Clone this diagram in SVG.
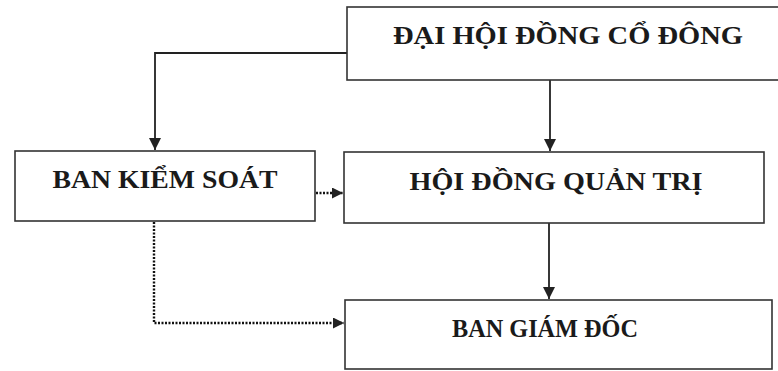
<svg xmlns="http://www.w3.org/2000/svg" width="778" height="371" viewBox="0 0 778 371">
<style>
.box{fill:#fff;stroke:#333;stroke-width:1.6}
.lbl{font-family:"Liberation Serif","Times New Roman",serif;font-weight:bold;font-size:25px;fill:#1a1a1a;text-anchor:middle}
.solid{fill:none;stroke:#222;stroke-width:1.8}
.dot{fill:none;stroke:#111;stroke-width:2.4;stroke-dasharray:2 1.5}
</style>
<defs>
<marker id="ah" viewBox="0 0 10 10" refX="10" refY="5" markerWidth="11" markerHeight="11" markerUnits="userSpaceOnUse" orient="auto">
<path d="M0,0 L10,5 L0,10 Z" fill="#222"/>
</marker>
<marker id="ahs" viewBox="0 0 10 10" refX="10" refY="5" markerWidth="12" markerHeight="12" markerUnits="userSpaceOnUse" orient="auto">
<path d="M0,0 L10,5 L0,10 Z" fill="#222"/>
</marker>
</defs>
<rect width="778" height="371" fill="#fff"/>
<g id="connectors">
<path class="solid" d="M347,53 H155 V150" marker-end="url(#ahs)"/>
<path class="solid" d="M550,80 V151" marker-end="url(#ahs)"/>
<path class="solid" d="M549,223 V299" marker-end="url(#ahs)"/>
<path class="dot" d="M316,193 H343" marker-end="url(#ah)"/>
<path class="dot" d="M154,222 V323 H344" marker-end="url(#ah)"/>
</g>
<g id="dhdcd">
<rect class="box" x="347" y="7" width="440" height="73"/>
<text class="lbl" x="568" y="44" textLength="350" lengthAdjust="spacingAndGlyphs">ĐẠI HỘI ĐỒNG CỔ ĐÔNG</text>
</g>
<g id="bks">
<rect class="box" x="15" y="151" width="300" height="70"/>
<text class="lbl" x="165" y="188" textLength="225" lengthAdjust="spacingAndGlyphs">BAN KIỂM SOÁT</text>
</g>
<g id="hdqt">
<rect class="box" x="344" y="152" width="420" height="71"/>
<text class="lbl" x="556" y="190" textLength="293" lengthAdjust="spacingAndGlyphs">HỘI ĐỒNG QUẢN TRỊ</text>
</g>
<g id="bgd">
<rect class="box" x="345" y="300" width="427" height="69"/>
<text class="lbl" x="545" y="337" textLength="186" lengthAdjust="spacingAndGlyphs">BAN GIÁM ĐỐC</text>
</g>
</svg>
